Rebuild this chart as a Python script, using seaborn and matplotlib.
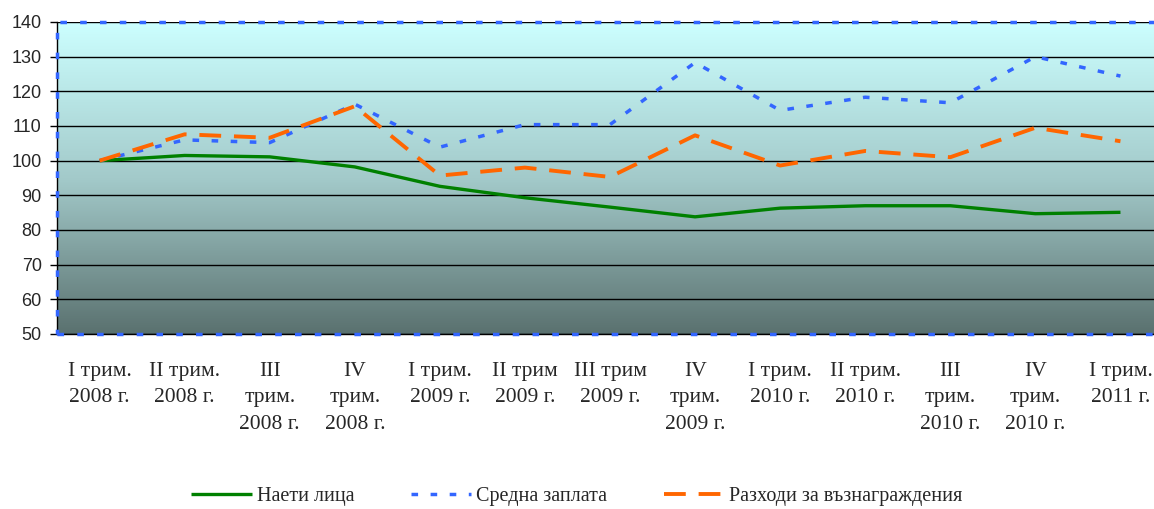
import numpy as np
import pandas as pd
import matplotlib.pyplot as plt
import seaborn as sns
from matplotlib.colors import LinearSegmentedColormap
from matplotlib.patches import Rectangle

# данные
quarters = ['I трим.\n2008 г.', 'II трим.\n2008 г.', 'III\nтрим.\n2008 г.', 'IV\nтрим.\n2008 г.',
            'I трим.\n2009 г.', 'II трим\n2009 г.', 'III трим\n2009 г.', 'IV\nтрим.\n2009 г.',
            'I трим.\n2010 г.', 'II трим.\n2010 г.', 'III\nтрим.\n2010 г.', 'IV\nтрим.\n2010 г.',
            'I трим.\n2011 г.']
employees = [100, 101.5, 101.1, 98.2, 92.6, 89.3, 86.6, 83.8, 86.3, 87.0, 87.0, 84.7, 85.1]
avg_wage = [100, 106.0, 105.2, 116.3, 103.9, 110.4, 110.4, 128.3, 114.5, 118.3, 116.7, 130.0, 124.4]
wage_costs = [100, 107.6, 106.6, 115.7, 95.7, 98.0, 95.3, 107.3, 98.6, 102.8, 101.0, 109.5, 105.6]
y_ticks = [50, 60, 70, 80, 90, 100, 110, 120, 130, 140]

series = [
    ('Наети лица', employees, '#008000', 2.4, ''),
    ('Средна заплата', avg_wage, '#3366FF', 2.5, (1.9, 3.6)),
    ('Разходи за възнаграждения', wage_costs, '#FF6600', 2.8, (5.6, 3.3)),
]

sns.set_style('white')
plt.rcParams['font.family'] = ['Liberation Serif', 'DejaVu Serif']

fig = plt.figure(figsize=(11.54, 5.09), dpi=100)
ax = fig.add_axes([57 / 1154, 1 - 334 / 509, (1163 - 57) / 1154, (334 - 22) / 509])

# градиентный фон
cmap = LinearSegmentedColormap.from_list('bg', ['#5A716F', '#A3CACA', '#CCFFFF'])
grad = np.linspace(0, 1, 256).reshape(-1, 1)
ax.imshow(grad, cmap=cmap, origin='lower', extent=[0, 1, 0, 1], aspect='auto',
          transform=ax.transAxes, zorder=0)

handles = []
for name, vals, color, lw, dash in series:
    df = pd.DataFrame({'quarter': quarters, 'value': vals})
    sns.lineplot(data=df, x='quarter', y='value', color=color, lw=lw, sort=False, ax=ax, zorder=3)
    line = ax.lines[-1]
    if dash:
        line.set_dashes(dash)
    line.set_solid_capstyle('butt')
    line.set_dash_capstyle('butt')
    line.set_label(name)
    handles.append(line)

if ax.get_legend() is not None:
    ax.get_legend().remove()

ax.set_xlim(-0.5, len(quarters) - 0.5)
ax.set_ylim(50, 140)
ax.set_yticks(y_ticks)
ax.set_yticklabels([str(v) for v in y_ticks], family='Liberation Sans', fontsize=13)
ax.set_xticks(range(len(quarters)))
ax.set_xticklabels(quarters, fontsize=15.5, linespacing=1.55)
ax.set_xticks(np.arange(-0.5, len(quarters)), minor=True)
ax.tick_params(axis='x', which='major', length=0, pad=20)
ax.tick_params(axis='x', which='minor', length=7, width=1, color='#808080')
ax.tick_params(axis='y', length=5, width=1, color='black', pad=6, direction='out', left=True)
ax.set_xlabel('')
ax.set_ylabel('')

ax.yaxis.grid(True, color='black', lw=1)
ax.xaxis.grid(False)
for s in ['top', 'right']:
    ax.spines[s].set_visible(False)
for s in ['left', 'bottom']:
    ax.spines[s].set_color('black')
    ax.spines[s].set_linewidth(1)

# синяя пунктирная рамка
ax.add_patch(Rectangle((0, 0), 1, 1, transform=ax.transAxes, fill=False, edgecolor='#3366FF',
                       lw=2.5, linestyle=(0, (1.9, 3.8)), zorder=4, clip_on=False))

fig.legend(handles=handles, loc='center', bbox_to_anchor=(0.5, 0.024), ncol=3, frameon=False,
           fontsize=14.5, handlelength=3.0, handletextpad=0.25, columnspacing=2.8)

fig.savefig('out.png', dpi=100)
